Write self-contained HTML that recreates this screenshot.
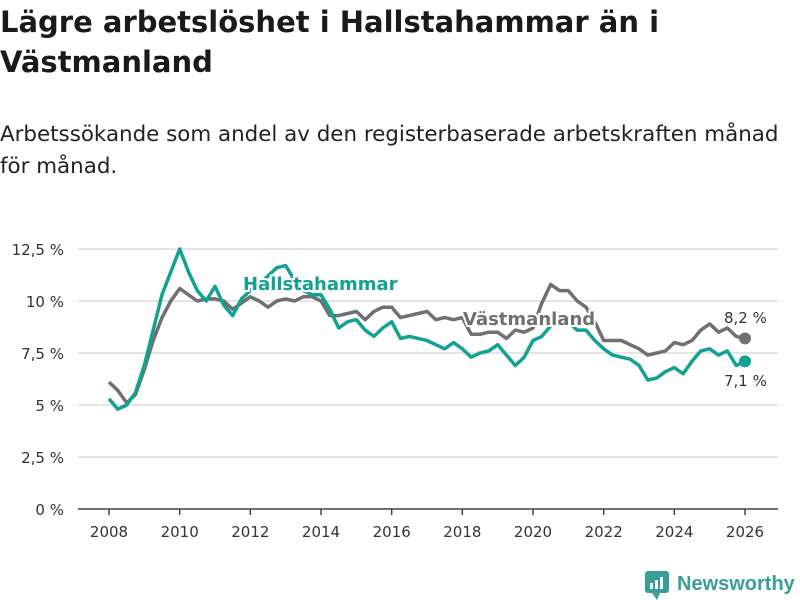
<!DOCTYPE html>
<html><head><meta charset="utf-8">
<style>
body{margin:0;background:#fff;font-family:"DejaVu Sans","Liberation Sans",sans-serif;}
#wrap{position:relative;width:800px;height:600px;overflow:hidden;}
h1{position:absolute;left:0;top:2px;margin:0;font-size:29px;line-height:40px;font-weight:bold;color:#1a1a1a;width:800px;white-space:nowrap;}
.sub{position:absolute;left:0;top:119px;margin:0;font-size:21.4px;line-height:32px;color:#222;width:800px;white-space:nowrap;}
svg{position:absolute;left:0;top:0;}
</style></head>
<body>
<div id="wrap">
<h1>Lägre arbetslöshet i Hallstahammar än i<br>Västmanland</h1>
<p class="sub">Arbetssökande som andel av den registerbaserade arbetskraften månad<br>för månad.</p>
<svg id="chart" width="800" height="600"></svg>
</div>
<script>
const years = [2008,2010,2012,2014,2016,2018,2020,2022,2024,2026];
const yTicks = [0,2.5,5,7.5,10,12.5];
const yTickLabels = ["0 %","2,5 %","5 %","7,5 %","10 %","12,5 %"];
const startYear = 2008;
const stepYear = 0.25;
const hallstahammar = [5.3,4.8,5.0,5.6,6.9,8.6,10.3,11.4,12.5,11.4,10.5,10.0,10.7,9.8,9.3,10.1,10.5,10.8,11.2,11.6,11.7,11.0,10.5,10.3,10.3,9.6,8.7,9.0,9.1,8.6,8.3,8.7,9.0,8.2,8.3,8.2,8.1,7.9,7.7,8.0,7.7,7.3,7.5,7.6,7.9,7.4,6.9,7.3,8.1,8.3,8.8,9.0,9.0,8.6,8.6,8.1,7.7,7.4,7.3,7.2,6.9,6.2,6.3,6.6,6.8,6.5,7.1,7.6,7.7,7.4,7.6,6.9,7.1];
const vastmanland = [6.1,5.7,5.1,5.5,6.7,8.1,9.2,10.0,10.6,10.3,10.0,10.1,10.1,10.0,9.6,9.9,10.2,10.0,9.7,10.0,10.1,10.0,10.2,10.2,10.0,9.3,9.3,9.4,9.5,9.1,9.5,9.7,9.7,9.2,9.3,9.4,9.5,9.1,9.2,9.1,9.2,8.4,8.4,8.5,8.5,8.2,8.6,8.5,8.7,9.9,10.8,10.5,10.5,10.0,9.7,9.0,8.1,8.1,8.1,7.9,7.7,7.4,7.5,7.6,8.0,7.9,8.1,8.6,8.9,8.5,8.7,8.3,8.2];
const lastLabels = ["7,1 %","8,2 %"];

const NS="http://www.w3.org/2000/svg";
const svg=document.getElementById('chart');
const FF='DejaVu Sans, Liberation Sans, sans-serif';
const X0=109,X1=745,Y0=509,Y1=249;
const xs=t=>X0+(t-2008)/(2026-2008)*(X1-X0);
const ys=v=>Y0-(v/12.5)*(Y0-Y1);
function el(tag,attrs,parent){const e=document.createElementNS(NS,tag);for(const k in attrs)e.setAttribute(k,attrs[k]);(parent||svg).appendChild(e);return e;}

yTicks.forEach((v,i)=>{
  if(v>0){const g=el('line',{x1:78,x2:778,y1:ys(v),y2:ys(v),stroke:'#dcdcdc','stroke-width':1.5});
  
  }
  const t=el('text',{x:64,y:ys(v)+6,'text-anchor':'end','font-size':15,fill:'#333','font-family':FF});
  t.textContent=yTickLabels[i];
  
  
});
const ax=el('line',{x1:78,x2:778,y1:Y0,y2:Y0,stroke:'#444','stroke-width':1.5});


years.forEach(y=>{
  const tk=el('line',{x1:xs(y),x2:xs(y),y1:Y0,y2:Y0+6,stroke:'#444','stroke-width':1.5});
  
  
  const t=el('text',{x:xs(y),y:Y0+28,'text-anchor':'middle','font-size':15,fill:'#333','font-family':FF});
  t.textContent=y;
  
  
});
function line(data,color,name){
  const d=data.map((v,i)=>(i?'L':'M')+xs(startYear+i*stepYear).toFixed(1)+','+ys(v).toFixed(1)).join('');
  const p=el('path',{d:d,fill:'none',stroke:color,'stroke-width':3.5,'stroke-linejoin':'round'});
  
  
  const n=data.length-1;
  const c=el('circle',{cx:xs(startYear+n*stepYear),cy:ys(data[n]),r:6,fill:color});
  
  
}
line(vastmanland,'#707070','vastmanland');
line(hallstahammar,'#13a193','hallstahammar');
function label(txt,x,y,color,name,weight,size){
  const t=el('text',{x:x,y:y,'font-size':size,'font-weight':weight,fill:color,stroke:'#fff','stroke-width':4,'paint-order':'stroke','font-family':FF});
  t.textContent=txt;
  
  
}
label('Hallstahammar',243,290,'#13a193','hallstahammar-series-label','bold',18);
label('Västmanland',463,325,'#707070','vastmanland-series-label','bold',18);
label(lastLabels[1],724,323,'#333','vastmanland-last-value','normal',15);
label(lastLabels[0],724,386,'#333','hallstahammar-last-value','normal',15);

const lg=el('g',{});


el('rect',{x:645,y:571,width:24,height:22,rx:3,fill:'#3a9e98'},lg);
el('path',{d:'M652,593 L657,600 L660,593 Z',fill:'#3a9e98'},lg);
el('rect',{x:650,y:583,width:3,height:6,fill:'#fff'},lg);
el('rect',{x:655,y:580,width:3,height:9,fill:'#fff'},lg);
el('rect',{x:660,y:577,width:3,height:12,fill:'#fff'},lg);
const lt=el('text',{x:677,y:590,'font-size':20,'font-weight':'bold',fill:'#3a9e98','font-family':'Liberation Sans, sans-serif'},lg);
lt.textContent='Newsworthy';
</script>
</body></html>
